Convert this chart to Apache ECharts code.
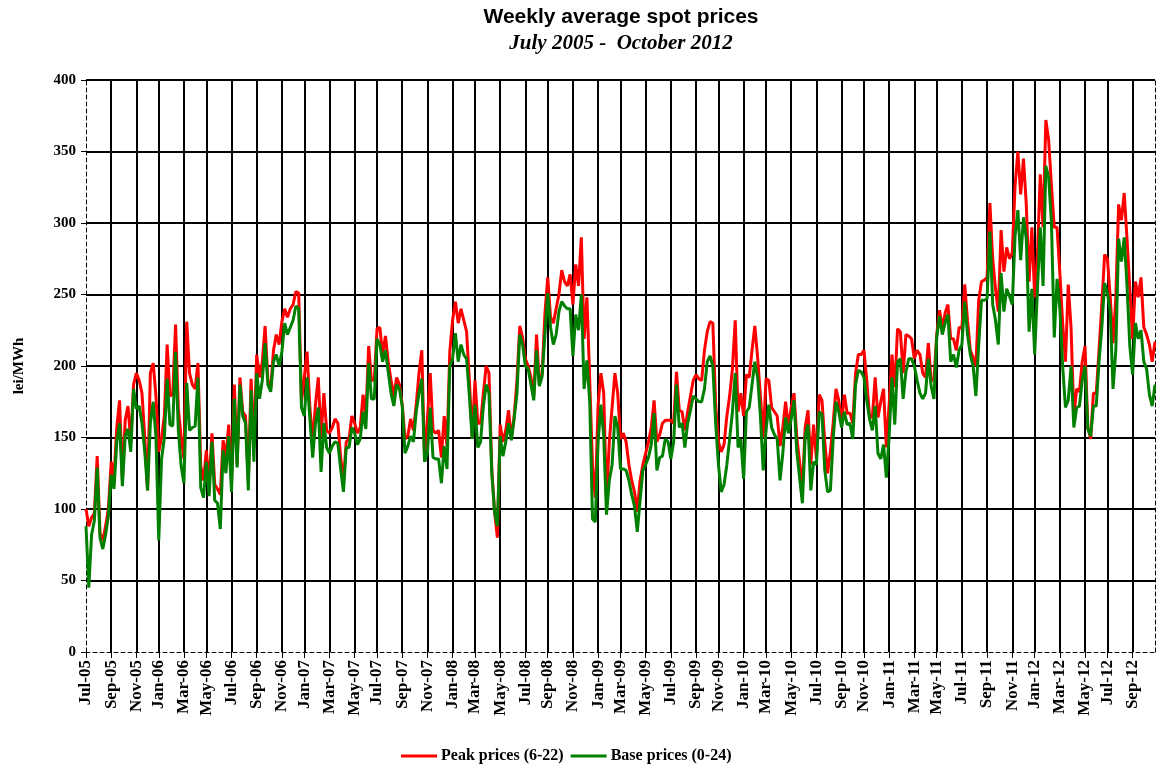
<!DOCTYPE html>
<html>
<head>
<meta charset="utf-8">
<script src="https://cdn.jsdelivr.net/npm/echarts@6/dist/echarts.min.js"></script>
<style>
html,body{margin:0;padding:0;background:#fff;}
#chart{width:1156px;height:767px;}
</style>
</head>
<body>
<div id="chart"></div>
<script>
// ---- data ----
const startDate = '2005-07-01';        // first weekly observation
const peakPrices = [
100,88,94,97,137,83,78,88,100,133,
122,157,176,120,162,172,147,187,195,190,
181,150,113,195,202,179,140,150,165,215,
179,180,229,170,150,135,231,195,187,184,
202,130,120,141,118,153,117,114,110,148,
136,159,118,187,131,192,168,165,120,191,
145,208,192,203,228,190,184,211,222,215,
231,240,234,240,243,252,251,175,192,210,
171,147,173,192,150,181,155,153,157,163,
160,136,120,147,149,165,160,153,157,180,
164,214,190,190,226,227,208,221,203,190,
179,192,187,173,149,151,163,155,173,195,
211,133,163,195,155,153,155,136,165,144,
210,232,245,230,240,232,224,190,150,190,
160,160,181,200,195,128,98,80,159,147,
155,169,149,165,190,228,220,205,200,192,
179,222,187,195,237,262,234,230,240,250,
267,259,256,264,243,271,256,290,219,248,
190,130,108,173,195,181,106,147,171,195,
181,149,153,147,131,120,112,98,120,131,
139,147,157,176,147,152,160,162,162,162,
160,196,169,168,155,168,179,190,194,191,
190,211,224,231,230,173,147,140,145,165,
179,198,232,168,181,165,194,192,211,228,
206,179,150,191,190,171,168,165,144,157,
175,157,171,181,150,133,114,157,169,131,
159,135,180,176,147,125,140,160,184,176,
160,180,167,167,160,195,208,208,211,190,
165,164,192,164,175,184,143,173,208,185,
226,224,195,222,221,219,205,211,208,195,
192,216,190,190,222,239,227,237,243,219,
219,211,227,227,257,232,211,206,200,246,
259,260,262,314,275,254,238,295,266,283,
275,279,326,350,320,345,313,259,297,248,
278,334,297,372,358,326,297,297,265,230,
203,257,227,165,184,182,203,214,157,149,
181,181,211,243,278,275,248,216,248,313,
302,321,289,254,219,259,248,262,227,222,
215,203,217
];
const basePrices = [
88,45,82,92,129,80,72,82,95,124,
114,147,160,116,151,156,140,184,170,172,
160,140,113,160,175,150,78,135,150,191,
159,158,210,155,130,118,188,155,157,158,
192,115,108,133,109,147,106,104,86,141,
125,151,112,177,129,187,165,160,113,183,
133,195,177,190,216,187,182,203,208,200,
210,230,222,227,232,242,240,171,165,192,
163,136,160,171,126,160,143,139,144,147,
146,128,112,143,143,157,153,145,149,168,
156,202,177,177,219,215,203,211,196,181,
172,187,184,172,139,144,151,147,168,181,
191,133,139,171,136,135,135,118,144,128,
200,205,223,203,215,208,205,179,149,173,
143,147,172,187,181,125,98,88,151,137,
147,160,148,163,181,222,215,200,198,187,
176,211,186,193,222,251,227,215,222,238,
245,242,240,240,207,236,225,250,184,204,
175,93,91,147,173,151,96,120,131,165,
157,128,128,127,120,110,102,84,106,127,
131,136,145,167,127,136,137,149,147,135,
147,187,157,160,143,160,169,179,177,175,
175,184,203,207,200,160,131,112,117,131,
149,168,195,143,149,121,168,171,187,203,
192,165,127,155,173,157,152,149,120,139,
164,153,163,176,140,122,104,151,159,113,
133,131,168,166,127,112,113,149,175,168,
157,168,159,160,149,187,197,196,192,176,
163,155,172,139,135,145,122,151,192,159,
203,205,177,196,205,205,200,190,181,177,
181,205,186,177,220,235,222,230,236,203,
208,199,211,215,245,222,208,200,179,215,
246,246,247,294,243,232,215,265,238,254,
249,243,291,309,274,304,289,224,254,208,
254,297,256,340,332,300,220,261,240,200,
171,176,200,157,171,172,190,200,156,151,
172,172,203,227,258,251,238,184,211,289,
273,290,256,214,194,230,219,225,203,198,
180,172,187
];
const tickLabels = ['Jul-05','Sep-05','Nov-05','Jan-06','Mar-06','May-06','Jul-06','Sep-06','Nov-06',
'Jan-07','Mar-07','May-07','Jul-07','Sep-07','Nov-07','Jan-08','Mar-08','May-08','Jul-08','Sep-08','Nov-08',
'Jan-09','Mar-09','May-09','Jul-09','Sep-09','Nov-09','Jan-10','Mar-10','May-10','Jul-10','Sep-10','Nov-10',
'Jan-11','Mar-11','May-11','Jul-11','Sep-11','Nov-11','Jan-12','Mar-12','May-12','Jul-12','Sep-12'];
const seriesNames = ['Peak prices (6-22)', 'Base prices (0-24)'];

// ---- build week categories and label positions ----
const DAY = 86400000;
const t0 = Date.parse(startDate + 'T00:00:00Z');
const categories = peakPrices.map((_, i) => {
  const d = new Date(t0 + i * 7 * DAY);
  return d.toISOString().slice(0, 10);
});
const labelAt = {};
tickLabels.forEach((lab, k) => {
  const t = Date.UTC(2005, 6 + 2 * k, 1);
  const idx = Math.round((t - t0) / DAY / 7);
  labelAt[idx] = lab;
});
const isTick = (index) => labelAt.hasOwnProperty(index);

const serif = 'Liberation Serif';
const sans = 'Liberation Sans';

const chart = echarts.init(document.getElementById('chart'), null, {renderer: 'canvas'});
chart.setOption({
  animation: false,
  backgroundColor: '#ffffff',
  title: [
    {text: 'Weekly average spot prices', left: 621, top: 7, padding: 0, textAlign: 'center',
     textStyle: {fontFamily: sans, fontWeight: 'bold', fontSize: 21, color: '#000'}},
    {text: 'July 2005 -  October 2012', left: 621, top: 33, padding: 0, textAlign: 'center',
     textStyle: {fontFamily: serif, fontStyle: 'italic', fontWeight: 'bold', fontSize: 21, color: '#000'}}
  ],
  legend: {
    top: 748, left: 401, padding: 0,
    icon: 'rect', itemWidth: 36, itemHeight: 3, itemGap: 7,
    textStyle: {fontFamily: serif, fontWeight: 'bold', fontSize: 16, color: '#000', padding: [0,0,0,-1]},
    data: seriesNames
  },
  grid: {left: 86, top: 80, right: 1, bottom: 115, containLabel: false},
  xAxis: {
    type: 'category',
    data: categories,
    boundaryGap: false,
    axisLine: {show: true, lineStyle: {color: '#000', width: 1, type: [4, 3]}},
    axisTick: {show: true, length: 6, interval: isTick, lineStyle: {color: '#000', width: 1}},
    axisLabel: {
      interval: isTick, rotate: 90, margin: 8,
      fontFamily: serif, fontWeight: 'bold', fontSize: 17, color: '#000',
      formatter: (v, i) => labelAt[i] || ''
    },
    splitLine: {show: true, interval: isTick, showMinLine: false, lineStyle: {color: '#000', width: 2}}
  },
  yAxis: [{
    type: 'value', min: 0, max: 400, interval: 50,
    name: 'lei/MWh', nameLocation: 'middle', nameGap: 59, nameRotate: 90,
    nameTextStyle: {fontFamily: serif, fontWeight: 'bold', fontSize: 15, color: '#000'},
    axisLine: {show: true, lineStyle: {color: '#000', width: 1, type: [4, 3]}},
    axisTick: {show: true, length: 5, lineStyle: {color: '#000', width: 1}},
    axisLabel: {margin: 10, fontFamily: serif, fontWeight: 'bold', fontSize: 15, color: '#000'},
    splitLine: {show: true, showMinLine: false, lineStyle: {color: '#000', width: 2}}
  }, {
    type: 'value', min: 0, max: 400, interval: 50, position: 'right',
    axisLine: {show: true, lineStyle: {color: '#000', width: 1, type: [4, 3]}},
    axisTick: {show: false}, axisLabel: {show: false}, splitLine: {show: false}
  }],
  series: [
    {name: seriesNames[0], type: 'line', data: peakPrices, yAxisIndex: 0,
     symbol: 'none', lineStyle: {color: '#ff0000', width: 3}, itemStyle: {color: '#ff0000'}},
    {name: seriesNames[1], type: 'line', data: basePrices, yAxisIndex: 0,
     symbol: 'none', lineStyle: {color: '#008000', width: 3}, itemStyle: {color: '#008000'}}
  ]
});
</script>
</body>
</html>
